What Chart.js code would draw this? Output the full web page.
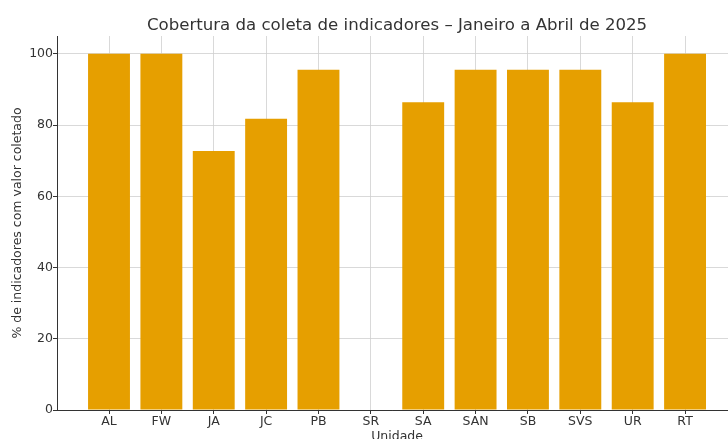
<!DOCTYPE html>
<html>
<head>
<meta charset="utf-8">
<script src="https://cdn.jsdelivr.net/npm/chart.js@4"></script>
<style>
  html, body { margin: 0; padding: 0; overflow: hidden; background: #fff; }
</style>
</head>
<body>
<canvas id="chart" width="728" height="439"></canvas>
<script>
// dados
const unidades = ["AL", "FW", "JA", "JC", "PB", "SR", "SA", "SAN", "SB", "SVS", "UR", "RT"];
const cobertura = [100, 100, 72.7, 81.8, 95.5, 0, 86.4, 95.5, 95.5, 95.5, 86.4, 100];
const yTicks = [0, 20, 40, 60, 80, 100];

const titulo = "Cobertura da coleta de indicadores – Janeiro a Abril de 2025";
const tituloX = "Unidade";

const txt = "#333333";
const font = "'DejaVu Sans', sans-serif";

const gridOpts = {
  color: "#cfcfcf",
  lineWidth: 0.8,
  borderDash: [3, 2],
  offset: false,
  tickColor: "#333333",
  tickBorderDash: [],
  tickWidth: 1,
  tickLength: 4
};

// titulo e rotulo do eixo x centralizados no eixo completo (que passa da borda)
const textos = {
  id: "textos",
  afterDraw(chart) {
    const ctx = chart.ctx;
    const x = chart.scales.x;
    const cx = x.getPixelForValue(5.5);
    ctx.save();
    ctx.fillStyle = txt;
    ctx.textAlign = "center";
    ctx.textBaseline = "alphabetic";
    ctx.font = "16.6px " + font;
    ctx.fillText(titulo, cx, 29.5);
    ctx.font = "12.5px " + font;
    ctx.fillText(tituloX, cx, 439.5);
    ctx.restore();
  }
};

new Chart(document.getElementById("chart"), {
  type: "bar",
  data: {
    datasets: [{
      data: unidades.map((u, i) => ({ x: i, y: cobertura[i] })),
      backgroundColor: "#E69F00",
      borderWidth: 0,
      barPercentage: 0.8,
      categoryPercentage: 1.0
    }]
  },
  plugins: [textos],
  options: {
    responsive: false,
    animation: false,
    layout: { padding: { left: 0, right: 0, top: 36, bottom: 0 } },
    plugins: {
      legend: { display: false },
      tooltip: { enabled: false },
      title: { display: false }
    },
    scales: {
      x: {
        type: "linear",
        min: -0.993,
        max: 11.82,
        offset: false,
        z: 1,
        afterBuildTicks: s => { s.ticks = unidades.map((u, i) => ({ value: i })); },
        afterFit: s => { s.height = 29; },
        ticks: {
          color: txt,
          font: { family: font, size: 12.5 },
          padding: 0,
          autoSkip: false,
          maxRotation: 0,
          callback: v => unidades[v]
        },
        grid: gridOpts,
        border: { color: "#333333", width: 1 }
      },
      y: {
        min: 0,
        max: 105,
        z: 1,
        afterBuildTicks: s => { s.ticks = yTicks.map(v => ({ value: v })); },
        afterFit: s => { s.width = 57; },
        ticks: {
          color: txt,
          font: { family: font, size: 12.5 },
          padding: 0
        },
        grid: gridOpts,
        border: { color: "#333333", width: 1 },
        title: {
          display: true,
          text: "% de indicadores com valor coletado",
          color: txt,
          font: { family: font, size: 12.5 },
          padding: { top: 10, bottom: 0 }
        }
      }
    }
  }
});
</script>
</body>
</html>
